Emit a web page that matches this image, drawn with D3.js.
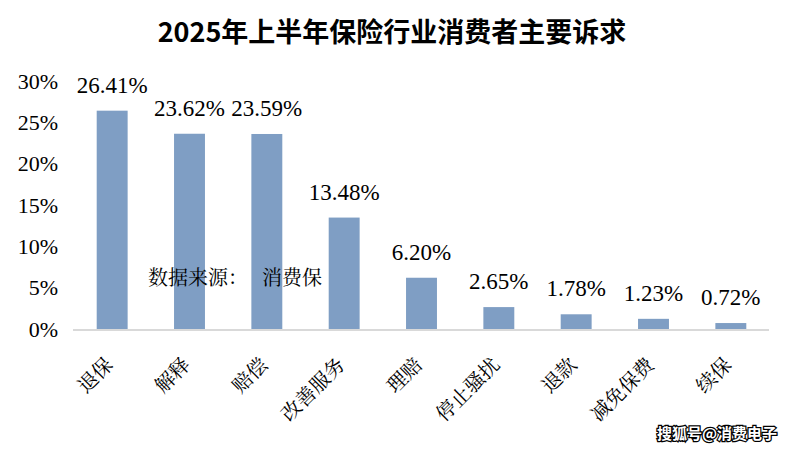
<!DOCTYPE html>
<html>
<head>
<meta charset="utf-8">
<script src="https://cdn.jsdelivr.net/npm/d3@7"></script>
<style>
  body { margin: 0; background: #fff; }
</style>
</head>
<body>
<div id="chart"></div>
<script>
let categories = ["退保", "解释", "赔偿", "改善服务", "理赔", "停止骚扰", "退款", "减免保费", "续保"];
let shares = [26.41, 23.62, 23.59, 13.48, 6.20, 2.65, 1.78, 1.23, 0.72];
let yTicks = [0, 5, 10, 15, 20, 25, 30];

let chartSvg = d3.select('#chart')
    .append('svg')
    .attr('width', 792)
    .attr('height', 451);

let x = d3.scaleBand()
    .domain(categories)
    .range([73.5, 769.5])
    .paddingInner(0.6)
    .paddingOuter(0.3);

let y = d3.scaleLinear()
    .domain([0, 30])
    .range([329, 81]);

// title
chartSvg.append('text')
    .attr('x', 392)
    .attr('y', 42)
    .attr('text-anchor', 'middle')
    .attr('font-family', 'Noto Sans CJK SC')
    .attr('font-weight', 'bold')
    .attr('font-size', 27)
    .text('2025年上半年保险行业消费者主要诉求');

// y tick labels
chartSvg.append('g')
    .selectAll('text')
    .data(yTicks)
    .enter()
    .append('text')
    .attr('x', 58)
    .attr('y', function (d) { return y(d); })
    .attr('dy', '0.35em')
    .attr('text-anchor', 'end')
    .attr('font-family', 'Liberation Serif')
    .attr('font-size', 22)
    .text(function (d) { return d + '%'; });

// bars
chartSvg.append('g')
    .selectAll('rect')
    .data(shares)
    .enter()
    .append('rect')
    .attr('x', function (d, i) { return x(categories[i]); })
    .attr('y', function (d) { return y(d); })
    .attr('width', x.bandwidth())
    .attr('height', function (d) { return y(0) - y(d); })
    .attr('fill', '#7f9ec4');

// baseline
chartSvg.append('line')
    .attr('x1', 73)
    .attr('x2', 769)
    .attr('y1', y(0) + 1)
    .attr('y2', y(0) + 1)
    .attr('stroke', '#d9d9d9')
    .attr('stroke-width', 2);

// value labels
chartSvg.append('g')
    .selectAll('text')
    .data(shares)
    .enter()
    .append('text')
    .attr('x', function (d, i) { return x(categories[i]) + x.bandwidth() / 2; })
    .attr('y', function (d) { return y(d) - 18; })
    .attr('text-anchor', 'middle')
    .attr('font-family', 'Liberation Serif')
    .attr('font-size', 23)
    .text(function (d) { return d.toFixed(2) + '%'; });

// category labels, rotated
chartSvg.append('g')
    .selectAll('text')
    .data(categories)
    .enter()
    .append('text')
    .attr('text-anchor', 'end')
    .attr('transform', function (d) {
        return 'translate(' + (x(d) + x.bandwidth() / 2 + 2) + ',366) rotate(-45)';
    })
    .attr('font-family', 'Noto Serif CJK SC')
    .attr('font-size', 20)
    .text(function (d) { return d; });

// source note
chartSvg.append('text')
    .attr('x', 148)
    .attr('y', 285)
    .attr('font-family', 'Noto Serif CJK SC')
    .attr('font-size', 20)
    .text('数据来源：');

chartSvg.append('text')
    .attr('x', 262)
    .attr('y', 285)
    .attr('font-family', 'Noto Serif CJK SC')
    .attr('font-size', 20)
    .text('消费保');

// watermark
chartSvg.append('text')
    .attr('x', 777)
    .attr('y', 439)
    .attr('text-anchor', 'end')
    .attr('font-family', 'Noto Sans CJK SC')
    .attr('font-size', 15)
    .attr('font-weight', 'bold')
    .attr('fill', '#fff')
    .attr('stroke', '#000')
    .attr('stroke-width', 2.5)
    .attr('paint-order', 'stroke')
    .text('搜狐号@消费电子');
</script>
</body>
</html>
